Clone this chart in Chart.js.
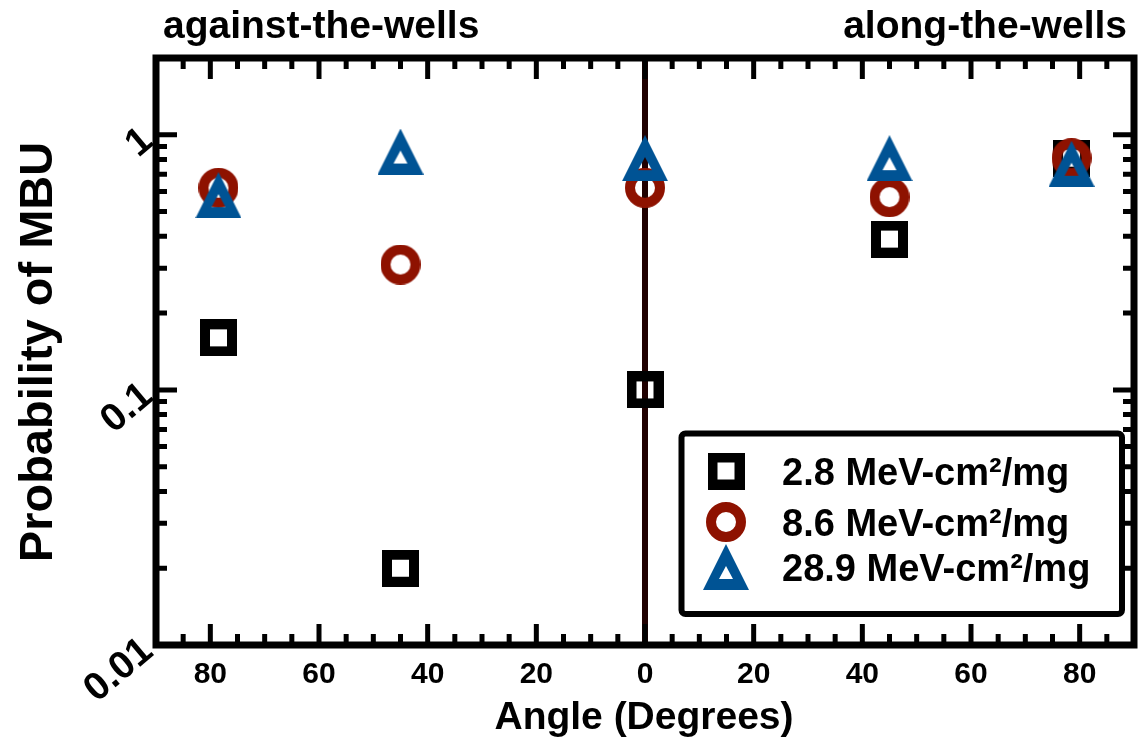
<!DOCTYPE html>
<html>
<head>
<meta charset="utf-8">
<script src="https://cdn.jsdelivr.net/npm/chart.js@4"></script>
<style>
  body { margin: 0; background: #fff; }
  canvas { display: block; }
</style>
</head>
<body>
<canvas id="chart" width="1142" height="740"></canvas>
<script>
// angle of incidence (negative = against-the-wells side)
const angles = [-78.5, -45, 0, 45, 78.5];
const seriesNames = ['2.8 MeV-cm\u00b2/mg', '8.6 MeV-cm\u00b2/mg', '28.9 MeV-cm\u00b2/mg'];
const let28 = [0.16, 0.02, 0.10, 0.39, 0.81];
const let86 = [0.62, 0.31, 0.62, 0.57, 0.81];
const let289 = [0.58, 0.86, 0.81, 0.81, 0.77];
const xMajorTicks = [-80, -60, -40, -20, 0, 20, 40, 60, 80];
const yMajorTicks = [0.01, 0.1, 1];
const yTickLabels = ['0.01', '0.1', '1'];
const sideLabels = ['against-the-wells', 'along-the-wells'];

const RED = '#8e1200';
const BLUE = '#005394';
const FONT = '"Liberation Sans", Arial, Helvetica, sans-serif';

function makeCanvas(w, h) {
  const c = document.createElement('canvas');
  c.width = w; c.height = h;
  return c;
}
function squareMarker() {
  const c = makeCanvas(37, 37), g = c.getContext('2d');
  g.fillStyle = '#000';
  g.fillRect(0, 0, 37, 37);
  g.clearRect(10, 10, 17, 17);
  return c;
}
function circleMarker() {
  const c = makeCanvas(40, 40), g = c.getContext('2d');
  g.strokeStyle = RED;
  g.lineWidth = 10;
  g.beginPath();
  g.arc(20, 20, 15, 0, Math.PI * 2);
  g.stroke();
  return c;
}
function triangleMarker() {
  const c = makeCanvas(46, 46), g = c.getContext('2d');
  g.fillStyle = BLUE;
  g.beginPath();
  g.moveTo(23, 0); g.lineTo(46, 46); g.lineTo(0, 46); g.closePath();
  g.fill();
  g.globalCompositeOperation = 'destination-out';
  g.beginPath();
  g.moveTo(23, 22); g.lineTo(30, 35); g.lineTo(16, 35); g.closePath();
  g.fill();
  return c;
}
const markers = [squareMarker(), circleMarker(), triangleMarker()];

function pts(vals) {
  return angles.map((a, i) => ({ x: a, y: vals[i] }));
}

const frame = {
  id: 'frame',
  beforeDatasetsDraw(chart) {
    const { ctx, chartArea: a, scales: { x } } = chart;
    ctx.save();
    ctx.strokeStyle = '#200000';
    ctx.lineWidth = 6;
    ctx.beginPath();
    ctx.moveTo(x.getPixelForValue(0), a.top);
    ctx.lineTo(x.getPixelForValue(0), a.bottom);
    ctx.stroke();
    ctx.restore();
  },
  afterDatasetsDraw(chart) {
    const { ctx, chartArea: a, scales: { x, y } } = chart;
    ctx.save();
    ctx.strokeStyle = '#000';
    ctx.fillStyle = '#000';

    // ticks pointing inward on all four sides
    ctx.lineWidth = 5;
    ctx.beginPath();
    for (let v = -85; v <= 85; v += 5) {
      const px = x.getPixelForValue(v);
      const len = xMajorTicks.includes(v) ? 21 : 11;
      ctx.moveTo(px, a.bottom); ctx.lineTo(px, a.bottom - len);
      ctx.moveTo(px, a.top); ctx.lineTo(px, a.top + len);
    }
    yMajorTicks.forEach(d => {
      for (let k = 1; k <= 9; k++) {
        const v = k * d;
        if (v >= 2) continue;
        const py = y.getPixelForValue(v);
        const len = k === 1 ? 21 : 11;
        ctx.moveTo(a.left, py); ctx.lineTo(a.left + len, py);
        ctx.moveTo(a.right, py); ctx.lineTo(a.right - len, py);
      }
    });
    ctx.stroke();

    // frame
    ctx.lineWidth = 7;
    ctx.strokeRect(a.left, a.top, a.right - a.left, a.bottom - a.top);

    // x tick labels
    ctx.font = 'bold 30px ' + FONT;
    ctx.textAlign = 'center';
    ctx.textBaseline = 'alphabetic';
    xMajorTicks.forEach(v => {
      ctx.fillText(String(Math.abs(v)), x.getPixelForValue(v), 683);
    });

    // y tick labels, slanted
    ctx.font = 'bold 39px ' + FONT;
    ctx.textAlign = 'right';
    ctx.textBaseline = 'middle';
    yMajorTicks.forEach((v, i) => {
      ctx.save();
      ctx.translate(a.left - 8, y.getPixelForValue(v) + 1);
      ctx.rotate(-40 * Math.PI / 180);
      ctx.fillText(yTickLabels[i], 0, 0);
      ctx.restore();
    });

    // axis titles
    ctx.textAlign = 'center';
    ctx.textBaseline = 'alphabetic';
    ctx.font = 'bold 39px ' + FONT;
    ctx.fillText('Angle (Degrees)', 644, 729);
    ctx.save();
    ctx.translate(52, 352);
    ctx.rotate(-Math.PI / 2);
    ctx.font = 'bold 47px ' + FONT;
    ctx.fillText('Probability of MBU', 0, 0);
    ctx.restore();

    // side labels
    ctx.font = 'bold 39px ' + FONT;
    ctx.textAlign = 'left';
    ctx.fillText(sideLabels[0], 163, 38);
    ctx.textAlign = 'right';
    ctx.fillText(sideLabels[1], 1127, 38);

    // legend box
    ctx.fillStyle = '#fff';
    ctx.lineWidth = 6;
    ctx.beginPath();
    ctx.roundRect(681.5, 433.5, 440.5, 180.5, 4);
    ctx.fill();
    ctx.stroke();
    ctx.fillStyle = '#000';
    ctx.textAlign = 'left';
    ctx.font = 'bold 38px ' + FONT;
    const rowsY = [471, 522, 567];
    seriesNames.forEach((name, i) => {
      const m = markers[i];
      ctx.drawImage(m, 726 - m.width / 2, rowsY[i] - m.height / 2);
      ctx.fillText(name, 782, rowsY[i] + 14);
    });
    ctx.restore();
  }
};

new Chart(document.getElementById('chart'), {
  type: 'scatter',
  data: {
    datasets: [
      { label: seriesNames[0], data: pts(let28), pointStyle: markers[0], pointRadius: 19, order: 3 },
      { label: seriesNames[1], data: pts(let86), pointStyle: markers[1], pointRadius: 20, order: 2 },
      { label: seriesNames[2], data: pts(let289), pointStyle: markers[2], pointRadius: 23, order: 1 }
    ]
  },
  options: {
    responsive: false,
    animation: false,
    devicePixelRatio: 1,
    layout: { autoPadding: false, padding: { left: 156, right: 8, top: 58, bottom: 95 } },
    plugins: { legend: { display: false }, tooltip: { enabled: false } },
    scales: {
      x: { type: 'linear', min: -90, max: 90, display: false },
      y: { type: 'logarithmic', min: 0.01, max: 2, display: false }
    }
  },
  plugins: [frame]
});
</script>
</body>
</html>
